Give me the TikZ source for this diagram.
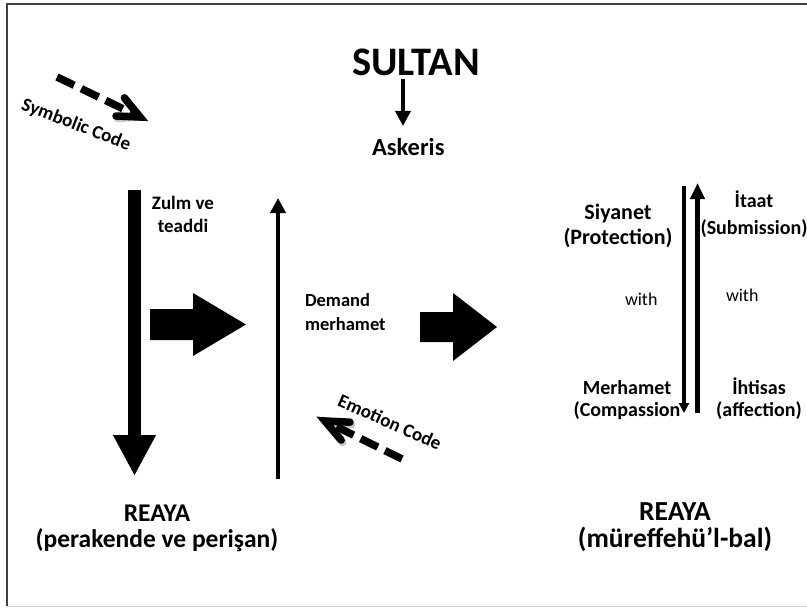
\documentclass[tikz,border=0pt]{standalone}
\usepackage{fontspec}
\setmainfont{Carlito}
\usetikzlibrary{arrows.meta}
\begin{document}
\begin{tikzpicture}[x=1pt,y=-1pt,
  txt/.style={inner sep=0pt, outer sep=0pt},
  bf/.style 2 args={txt, font=\bfseries\fontsize{#1}{#2}\selectfont},
  rg/.style={txt, font=\fontsize{#1}{#1}\selectfont},
  dasharrow/.style={line width=7.5pt, dash pattern=on 19pt off 8pt},
  chevron/.style={line width=7.5pt, line cap=round, line join=miter},
  shadow/.style={black, opacity=0.22, shift={(1.5,2.5)}},
  solidarrow/.style={-{Triangle[length=#1,width=#1]}},
]
\useasboundingbox (0,0) rectangle (807,610);

% frame
\draw[line width=2pt, black!75] (7,606) -- (7,4) -- (812,4);
\draw[line width=1pt, black!18] (7,606) -- (812,606);

% --- top: Sultan and Askeris
\node[bf={40.5}{48}, anchor=base west] (sultan) at (352,76) {SULTAN};
\node[bf={24.5}{29}, anchor=base west] (askeris) at (372,155) {Askeris};
\coordinate (sultanfoot) at (403,79);
\coordinate (askerishead) at (403,126);
\draw[line width=3.5pt, solidarrow=15pt] (sultanfoot) -- (askerishead);

% --- left side
\coordinate (downtop) at (134.5,190);
\coordinate (downtip) at (134.5,476);
\draw[line width=13pt, -{Triangle[length=41pt,width=40pt]}] (downtop) -- (downtip);

\coordinate (upbottom) at (278,479);
\coordinate (uptip) at (278,198);
\draw[line width=4.5pt, solidarrow=15pt] (upbottom) -- (uptip);

\node[bf={19}{23}, align=center, anchor=base] (zulm) at (183,232) {Zulm ve\\teaddi};
\node[bf={18.5}{24}, align=left, anchor=base west] (demand) at (305,330) {Demand\\merhamet};

% block arrows
\fill (150,309) -- (193,309) -- (193,293) -- (246,324.5) -- (193,356) -- (193,340) -- (150,340) -- cycle;
\fill (420,312) -- (453,312) -- (453,293) -- (497,327) -- (453,361) -- (453,342) -- (420,342) -- cycle;

% symbolic code arrow (pointing down-right)
\coordinate (symtail) at (57,77);
\coordinate (symtip) at (140,117);
\begin{scope}[shadow]
  \draw[dasharrow] (symtail) -- (symtip);
  \draw[chevron] (116,116) -- (symtip) -- (124.4,97.8);
\end{scope}
\draw[dasharrow] (symtail) -- (symtip);
\draw[chevron] (116,116) -- (symtip) -- (124.4,97.8);
\node[bf={19}{22}, rotate=-21] (symbolic) at (76,125) {Symbolic Code};

% emotion code arrow (pointing up-left)
\coordinate (emotail) at (402,459);
\coordinate (emotip) at (325,421);
\begin{scope}[shadow]
  \draw[dasharrow] (emotail) -- (emotip);
  \draw[chevron] (350,422.2) -- (emotip) -- (341.2,440.1);
\end{scope}
\draw[dasharrow] (emotail) -- (emotip);
\draw[chevron] (350,422.2) -- (emotip) -- (341.2,440.1);
\node[bf={19}{22}, rotate=-24] (emotion) at (390,422) {Emotion Code};

% left reaya
\node[bf={25.5}{26}, align=center, anchor=base] (reayaL) at (157,547) {REAYA\\(perakende ve perişan)};

% --- right side
\node[bf={22}{25.5}, align=center, anchor=base] (siyanet) at (618,244.5) {Siyanet\\(Protection)};
\node[bf={20}{27}, align=center, anchor=base] (itaat) at (754,234) {İtaat\\(Submission)};
\node[rg=18, anchor=base west] (withL) at (625,305) {with};
\node[rg=18, anchor=base west] (withR) at (726,301) {with};
\node[bf={20}{22}, align=center, anchor=base] (merhamet) at (627,416) {Merhamet\\(Compassion};
\node[bf={20}{22}, align=center, anchor=base] (ihtisas) at (759,416) {İhtisas\\(affection)};

\coordinate (rdtop) at (684,186);
\coordinate (rdtip) at (684,413);
\draw[line width=3.5pt, solidarrow=10pt] (rdtop) -- (rdtip);
\coordinate (rubottom) at (697.5,413);
\coordinate (rutip) at (697.5,183);
\draw[line width=5pt, -{Triangle[length=16pt,width=14pt]}] (rubottom) -- (rutip);

\node[bf={27.5}{27}, align=center, anchor=base] (reayaR) at (675,547) {REAYA\\(müreffehü’l-bal)};
\end{tikzpicture}
\end{document}
